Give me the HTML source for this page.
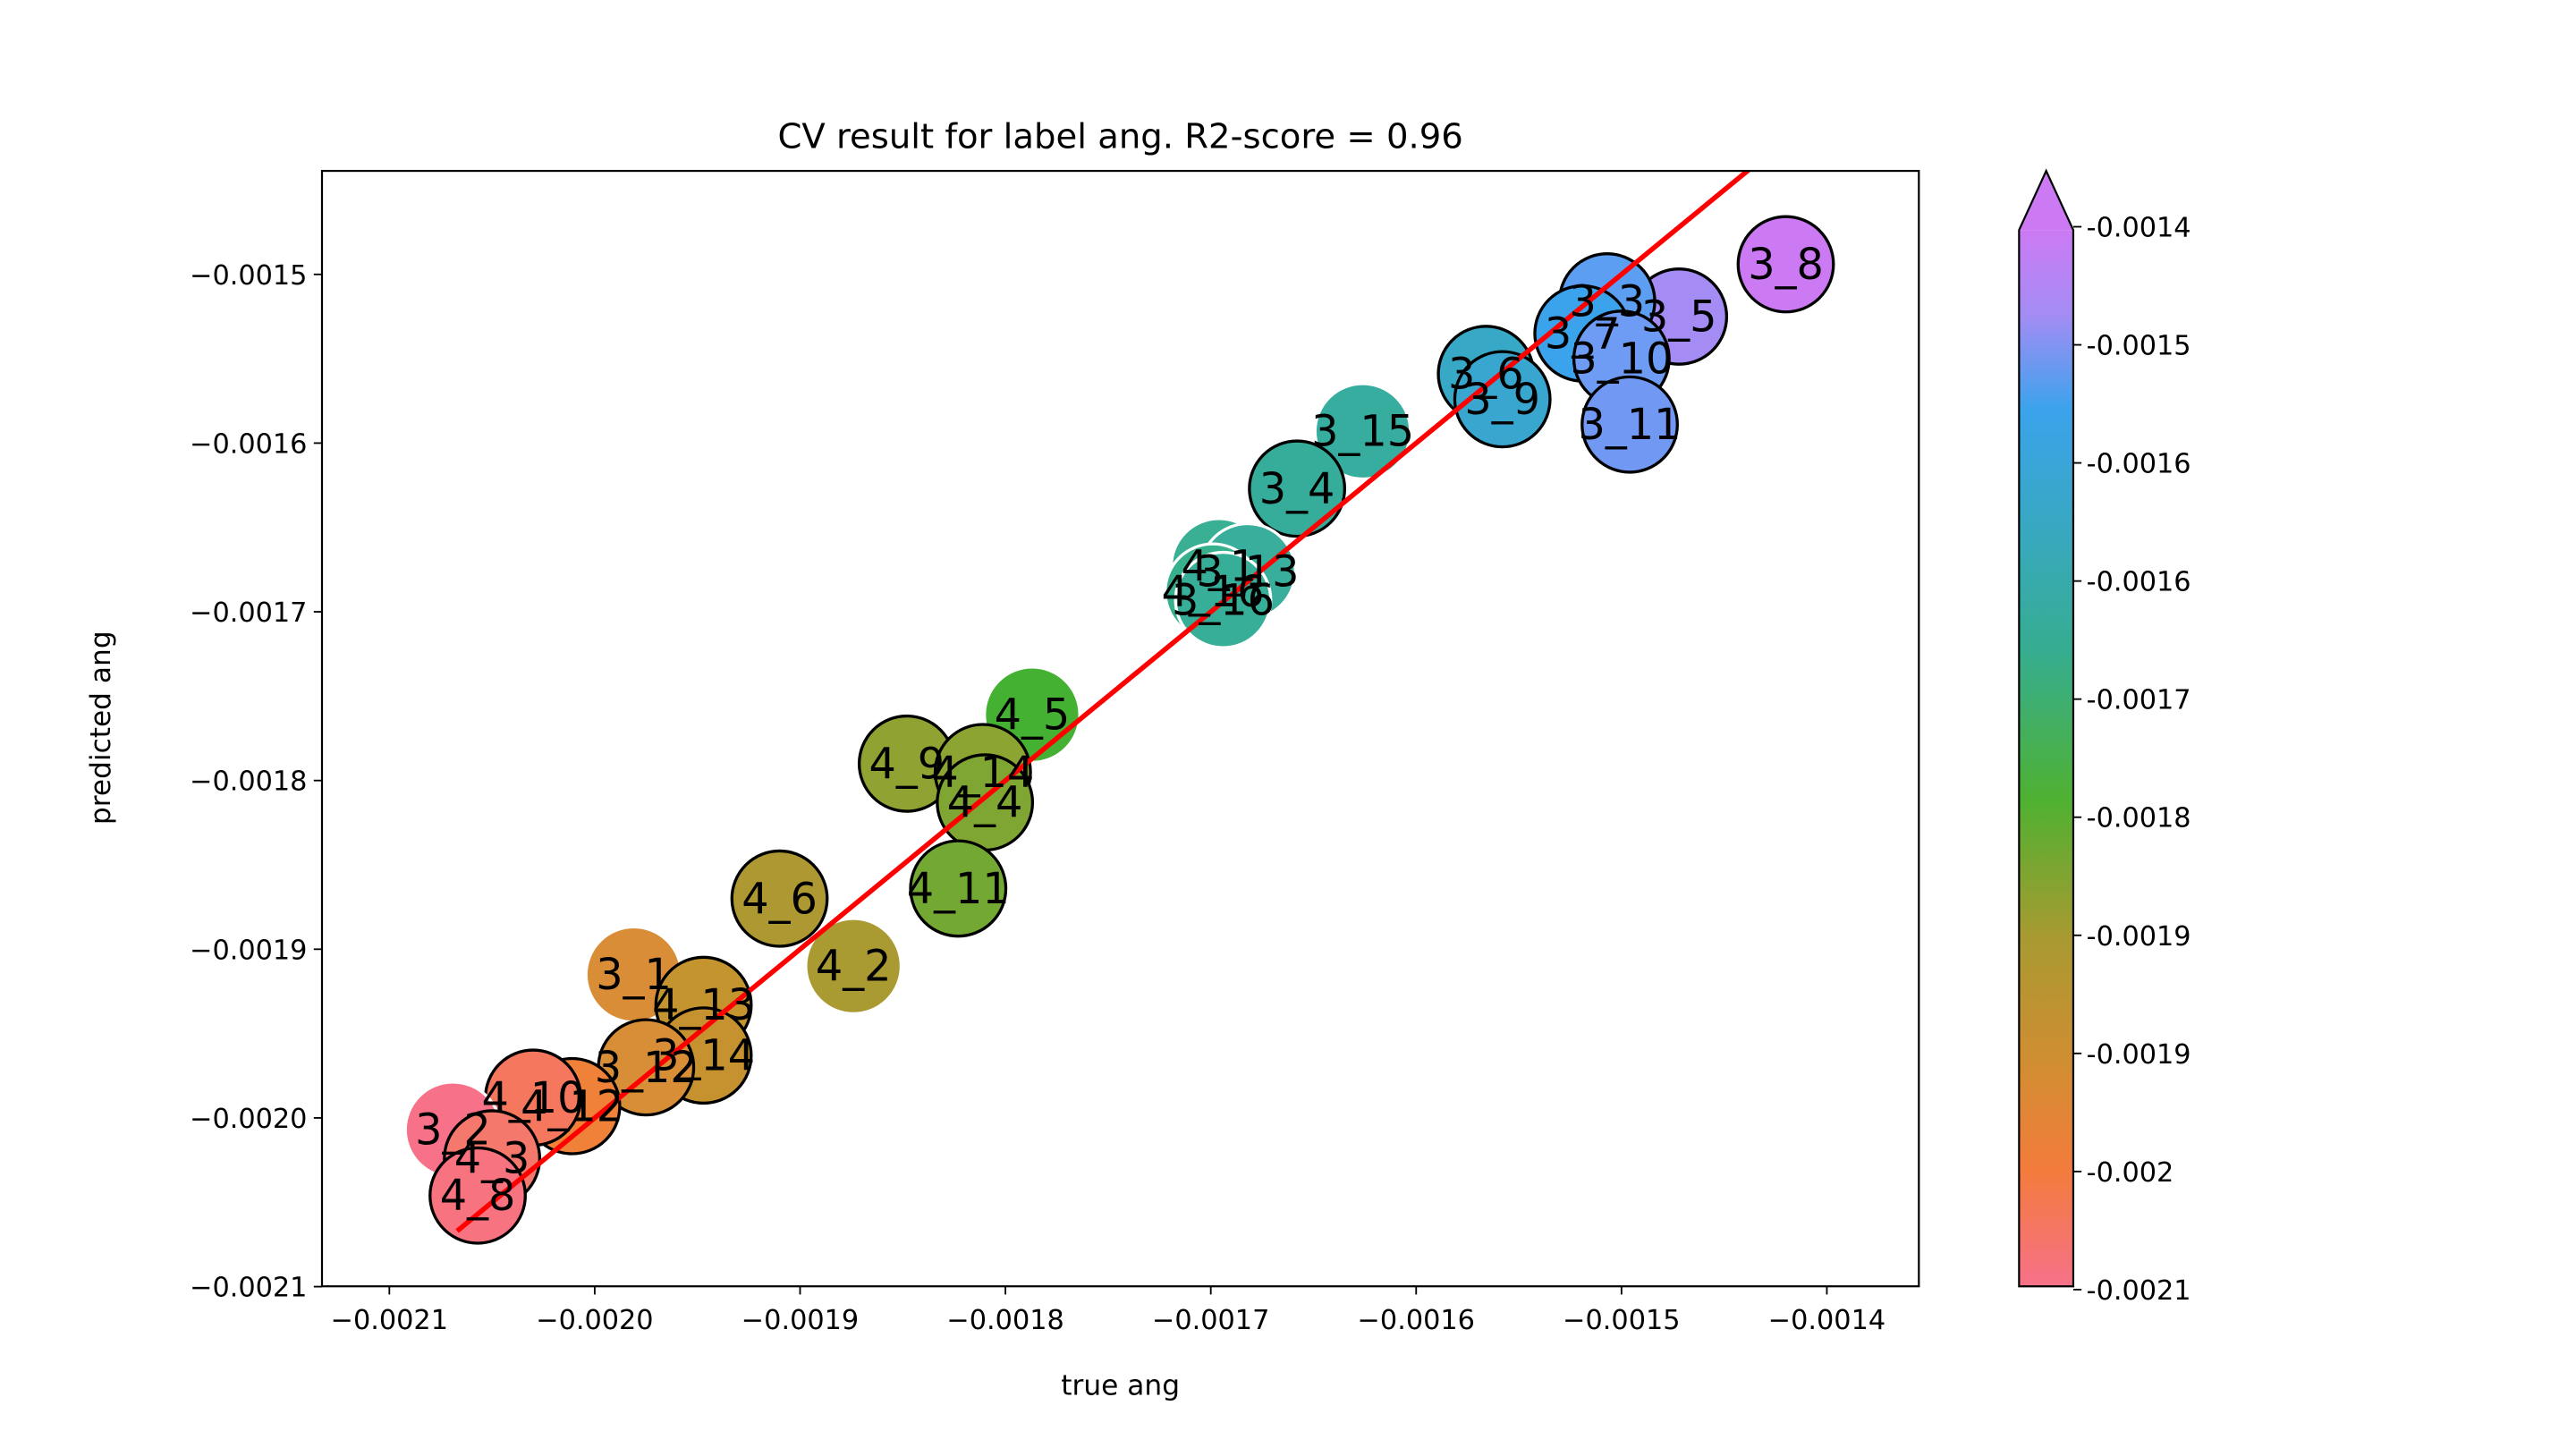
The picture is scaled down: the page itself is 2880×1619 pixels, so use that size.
<!DOCTYPE html>
<html><head><meta charset="utf-8"><style>
html,body{margin:0;padding:0;background:#fff}
svg{display:block;font-family:"DejaVu Sans","Liberation Sans",sans-serif}
</style></head><body>
<svg id="chart" width="2880" height="1619" viewBox="0 0 1568 881.4" xmlns="http://www.w3.org/2000/svg">
<defs>
<linearGradient id="cbgrad" x1="0" y1="1" x2="0" y2="0">
<stop offset="0" stop-color="#f77189"/><stop offset="0.11" stop-color="#f37b3c"/>
<stop offset="0.2" stop-color="#d58c32"/><stop offset="0.33" stop-color="#a89a31"/>
<stop offset="0.46" stop-color="#4fb131"/><stop offset="0.6" stop-color="#36ad8f"/>
<stop offset="0.72" stop-color="#38a8c2"/><stop offset="0.83" stop-color="#3ba3ec"/>
<stop offset="0.92" stop-color="#a48cf4"/><stop offset="1" stop-color="#cc7af4"/>
</linearGradient>
<clipPath id="plotclip"><rect x="196" y="104" width="972" height="679"/></clipPath>
</defs>
<text x="682" y="90" font-size="21" text-anchor="middle">CV result for label ang. R2-score = 0.96</text>
<g id="xticks"></g><g id="yticks"></g>
<g id="marks" clip-path="url(#plotclip)"></g>
<rect x="196" y="104" width="972" height="679" fill="none" stroke="#000" stroke-width="1.2"/>
<text x="682" y="849" font-size="17" text-anchor="middle">true ang</text>
<text transform="translate(67,443) rotate(-90)" font-size="17" text-anchor="middle">predicted ang</text>
<g>
<rect x="1229" y="140" width="33" height="643" fill="url(#cbgrad)"/>
<polygon points="1229,140 1245.5,104 1262,140" fill="#cc7af4"/>
<polygon points="1229,783 1229,140 1245.5,104 1262,140 1262,783" fill="none" stroke="#000" stroke-width="1.2"/>
<g id="cbticks"></g>
</g>
</svg>
<script>
const labels=["3_8","3_5","3_3","3_7","3_10","3_11","3_6","3_9","3_15","3_4","4_1","3_13","4_16","3_16","4_5","4_9","4_14","4_4","4_11","4_6","4_2","3_1","4_13","3_14","3_12","4_12","4_10","3_2","4_3","4_8"];
const trueVals=[-0.00142,-0.001472,-0.001507,-0.001519,-0.0015,-0.001496,-0.001566,-0.001558,-0.001626,-0.001658,-0.001696,-0.001682,-0.001699,-0.001694,-0.001787,-0.001848,-0.001811,-0.00181,-0.001823,-0.00191,-0.001874,-0.001981,-0.001947,-0.001947,-0.001975,-0.002011,-0.00203,-0.002069,-0.00205,-0.002057];
const predVals=[-0.001494,-0.001525,-0.001516,-0.001535,-0.00155,-0.001589,-0.001559,-0.001574,-0.001593,-0.001627,-0.001673,-0.001676,-0.001688,-0.001693,-0.001761,-0.00179,-0.001795,-0.001813,-0.001864,-0.00187,-0.00191,-0.001915,-0.001933,-0.001963,-0.00197,-0.001993,-0.001988,-0.002007,-0.002024,-0.002046];
const colors=["#cc7af4","#a48cf4","#5b9ef2","#3ba3ec","#6e9bf3","#7199f3","#37a8c6","#39a6cf","#36ad9e","#36ad9a","#39b093","#39ae9c","#37b08e","#37ae98","#45b132","#8fa232","#8ca432","#7fa532","#73a832","#ad9832","#a99a32","#da8d37","#c4952f","#c6922f","#d78e36","#ef8138","#f4775e","#f77189","#f4786c","#f6737f"];
const edges=["#000","#000","#000","#000","#000","#000","#000","#000","#fff","#000","#fff","#fff","#fff","#fff","#fff","#000","#000","#000","#000","#000","#fff","#fff","#000","#000","#000","#000","#000","#fff","#000","#000"];
const xTicks=[-0.0021,-0.0020,-0.0019,-0.0018,-0.0017,-0.0016,-0.0015,-0.0014];
const xTickLabels=["\u22120.0021","\u22120.0020","\u22120.0019","\u22120.0018","\u22120.0017","\u22120.0016","\u22120.0015","\u22120.0014"];
const yTicks=[-0.0015,-0.0016,-0.0017,-0.0018,-0.0019,-0.0020,-0.0021];
const yTickLabels=["\u22120.0015","\u22120.0016","\u22120.0017","\u22120.0018","\u22120.0019","\u22120.0020","\u22120.0021"];
const cbTickLabels=["-0.0014","-0.0015","-0.0016","-0.0016","-0.0017","-0.0018","-0.0019","-0.0019","-0.002","-0.0021"];
const fitRange=[-0.002067,-0.00135];
const NS="http://www.w3.org/2000/svg";
const X=v=>237+(v+0.0021)/0.0001*125;
const Y=v=>167-(v+0.0015)/0.0001*102.7;
function mk(tag,attrs,parent){const e=document.createElementNS(NS,tag);for(const k in attrs)e.setAttribute(k,attrs[k]);parent.appendChild(e);return e;}
const xt=document.getElementById('xticks'),yt=document.getElementById('yticks'),mg=document.getElementById('marks'),cb=document.getElementById('cbticks');
xTicks.forEach((v,i)=>{const g=mk('g',{},xt);


mk('line',{x1:X(v),x2:X(v),y1:783,y2:788,stroke:'#000','stroke-width':1},g);
const t=mk('text',{x:X(v),y:809,'font-size':16.5,'text-anchor':'middle'},g);t.textContent=xTickLabels[i];});
yTicks.forEach((v,i)=>{const g=mk('g',{},yt);


mk('line',{x1:191,x2:196,y1:Y(v),y2:Y(v),stroke:'#000','stroke-width':1},g);
const t=mk('text',{x:187,y:Y(v)+6,'font-size':16.5,'text-anchor':'end'},g);t.textContent=yTickLabels[i];});
cbTickLabels.forEach((s,i)=>{const y=138+i*(785-138)/9;const g=mk('g',{},cb);


mk('line',{x1:1262,x2:1267,y1:y,y2:y,stroke:'#000','stroke-width':1},g);
const t=mk('text',{x:1270,y:y+6,'font-size':16.5},g);t.textContent=s;});
const pts=mk('g',{},mg);


labels.forEach((l,i)=>{const c=mk('circle',{cx:X(trueVals[i]),cy:Y(predVals[i]),r:29,fill:colors[i],stroke:edges[i],'stroke-width':1.8},pts);

});
const line=mk('line',{x1:X(fitRange[0]),y1:Y(fitRange[0]),x2:X(fitRange[1]),y2:Y(fitRange[1]),stroke:'#ff0000','stroke-width':3},mg);


labels.forEach((l,i)=>{const t=mk('text',{x:X(trueVals[i]),y:Y(predVals[i])+9,'font-size':26,'text-anchor':'middle'},mg);


t.textContent=l;});
</script>
</body></html>
